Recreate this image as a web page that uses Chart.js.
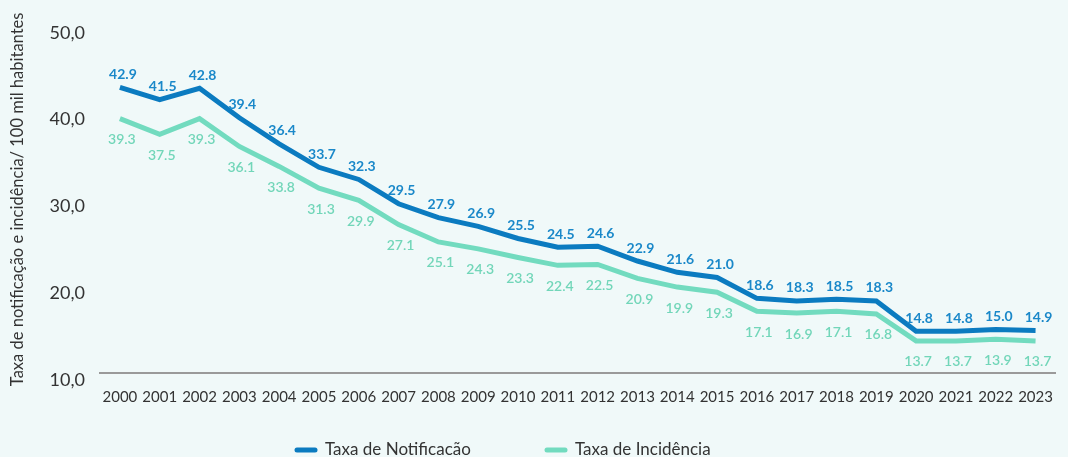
<!DOCTYPE html>
<html>
<head>
<meta charset="utf-8">
<style>
  body { margin: 0; background: #f0f9f9; }
  #wrap { width: 1068px; height: 457px; position: relative; }
  canvas { display: block; }
</style>
<script src="https://cdn.jsdelivr.net/npm/chart.js@4.4.0/dist/chart.umd.min.js"></script>
</head>
<body>
<div id="wrap"><canvas id="chart" width="1068" height="457"></canvas></div>
<script>
const years = ['2000','2001','2002','2003','2004','2005','2006','2007','2008','2009','2010','2011',
  '2012','2013','2014','2015','2016','2017','2018','2019','2020','2021','2022','2023'];
const notificacao = [42.9, 41.5, 42.8, 39.4, 36.4, 33.7, 32.3, 29.5, 27.9, 26.9, 25.5, 24.5,
  24.6, 22.9, 21.6, 21.0, 18.6, 18.3, 18.5, 18.3, 14.8, 14.8, 15.0, 14.9];
const incidencia = [39.3, 37.5, 39.3, 36.1, 33.8, 31.3, 29.9, 27.1, 25.1, 24.3, 23.3, 22.4,
  22.5, 20.9, 19.9, 19.3, 17.1, 16.9, 17.1, 16.8, 13.7, 13.7, 13.9, 13.7];
const yTicks = [10, 20, 30, 40, 50];

const FONT = "Lato, 'Open Sans', sans-serif";
const BLUE = '#0b7bc0';
const BLUE_TXT = '#1a88c9';
const GREEN = '#72dbbf';
const GREEN_TXT = '#72d6b9';

// value labels above (blue) / below (green) each point
const valueLabels = {
  id: 'valueLabels',
  afterDatasetsDraw(chart) {
    const ctx = chart.ctx;
    ctx.save();
    ctx.textAlign = 'center';
    ctx.textBaseline = 'middle';
    chart.data.datasets.forEach((ds, di) => {
      const meta = chart.getDatasetMeta(di);
      meta.data.forEach((pt, i) => {
        const v = ds.data[i].toFixed(1);
        if (di === 0) {
          ctx.font = "bold 14px " + FONT;
          ctx.fillStyle = BLUE_TXT;
          ctx.fillText(v, pt.x + 3, pt.y - 13);
        } else {
          ctx.font = "600 14px " + FONT;
          ctx.fillStyle = GREEN_TXT;
          ctx.fillText(v, pt.x + 2, pt.y + 21);
        }
      });
    });
    ctx.restore();
  }
};

// legend drawn at the bottom
const bottomLegend = {
  id: 'bottomLegend',
  afterDraw(chart) {
    const ctx = chart.ctx;
    const items = [
      { text: 'Taxa de Notificacão', color: BLUE, x: 295 },
      { text: 'Taxa de Incidência', color: GREEN, x: 545 }
    ];
    ctx.save();
    ctx.font = "17px " + FONT;
    ctx.textBaseline = 'middle';
    ctx.textAlign = 'left';
    items.forEach(it => {
      ctx.strokeStyle = it.color;
      ctx.lineWidth = 5;
      ctx.lineCap = 'round';
      ctx.beginPath();
      ctx.moveTo(it.x + 2, 450);
      ctx.lineTo(it.x + 20, 450);
      ctx.stroke();
      ctx.fillStyle = '#333';
      ctx.fillText(it.text, it.x + 30, 450);
    });
    ctx.restore();
  }
};

const bg = {
  id: 'bg',
  beforeDraw(chart) {
    const ctx = chart.ctx;
    ctx.save();
    ctx.fillStyle = '#f0f9f9';
    ctx.fillRect(0, 0, chart.width, chart.height);
    ctx.restore();
  }
};

new Chart(document.getElementById('chart'), {
  type: 'line',
  data: {
    labels: years,
    datasets: [
      { label: 'Taxa de Notificacão', data: notificacao, borderColor: BLUE, backgroundColor: BLUE,
        borderWidth: 5, pointRadius: 0, tension: 0, fill: false },
      { label: 'Taxa de Incidência', data: incidencia, borderColor: GREEN, backgroundColor: GREEN,
        borderWidth: 5, pointRadius: 0, tension: 0, fill: false }
    ]
  },
  options: {
    responsive: false,
    animation: false,
    layout: { padding: { top: 24, right: 2, bottom: 36, left: 0 } },
    plugins: { legend: { display: false }, tooltip: { enabled: false } },
    scales: {
      x: {
        offset: true,
        grid: { display: false, drawTicks: false },
        border: { display: true, color: '#9a9a9a', width: 2 },
        ticks: { color: '#333', font: { family: FONT, size: 15 }, padding: 15,
                 autoSkip: false, maxRotation: 0 }
      },
      y: {
        min: 10, max: 50,
        afterBuildTicks(scale) { scale.ticks = yTicks.map(v => ({ value: v })); },
        afterFit(scale) { scale.width = 100; },
        grid: { display: false, drawTicks: false },
        border: { display: false },
        ticks: { color: '#333', font: { family: FONT, size: 18 }, padding: 15, labelOffset: 7,
                 callback: v => v.toFixed(1).replace('.', ',') },
        title: { display: true, text: 'Taxa de notificação e incidência/ 100 mil habitantes',
                 color: '#333', font: { family: FONT, size: 16.5 }, padding: { top: 8, bottom: 0 } }
      }
    }
  },
  plugins: [bg, valueLabels, bottomLegend]
});
</script>
</body>
</html>
